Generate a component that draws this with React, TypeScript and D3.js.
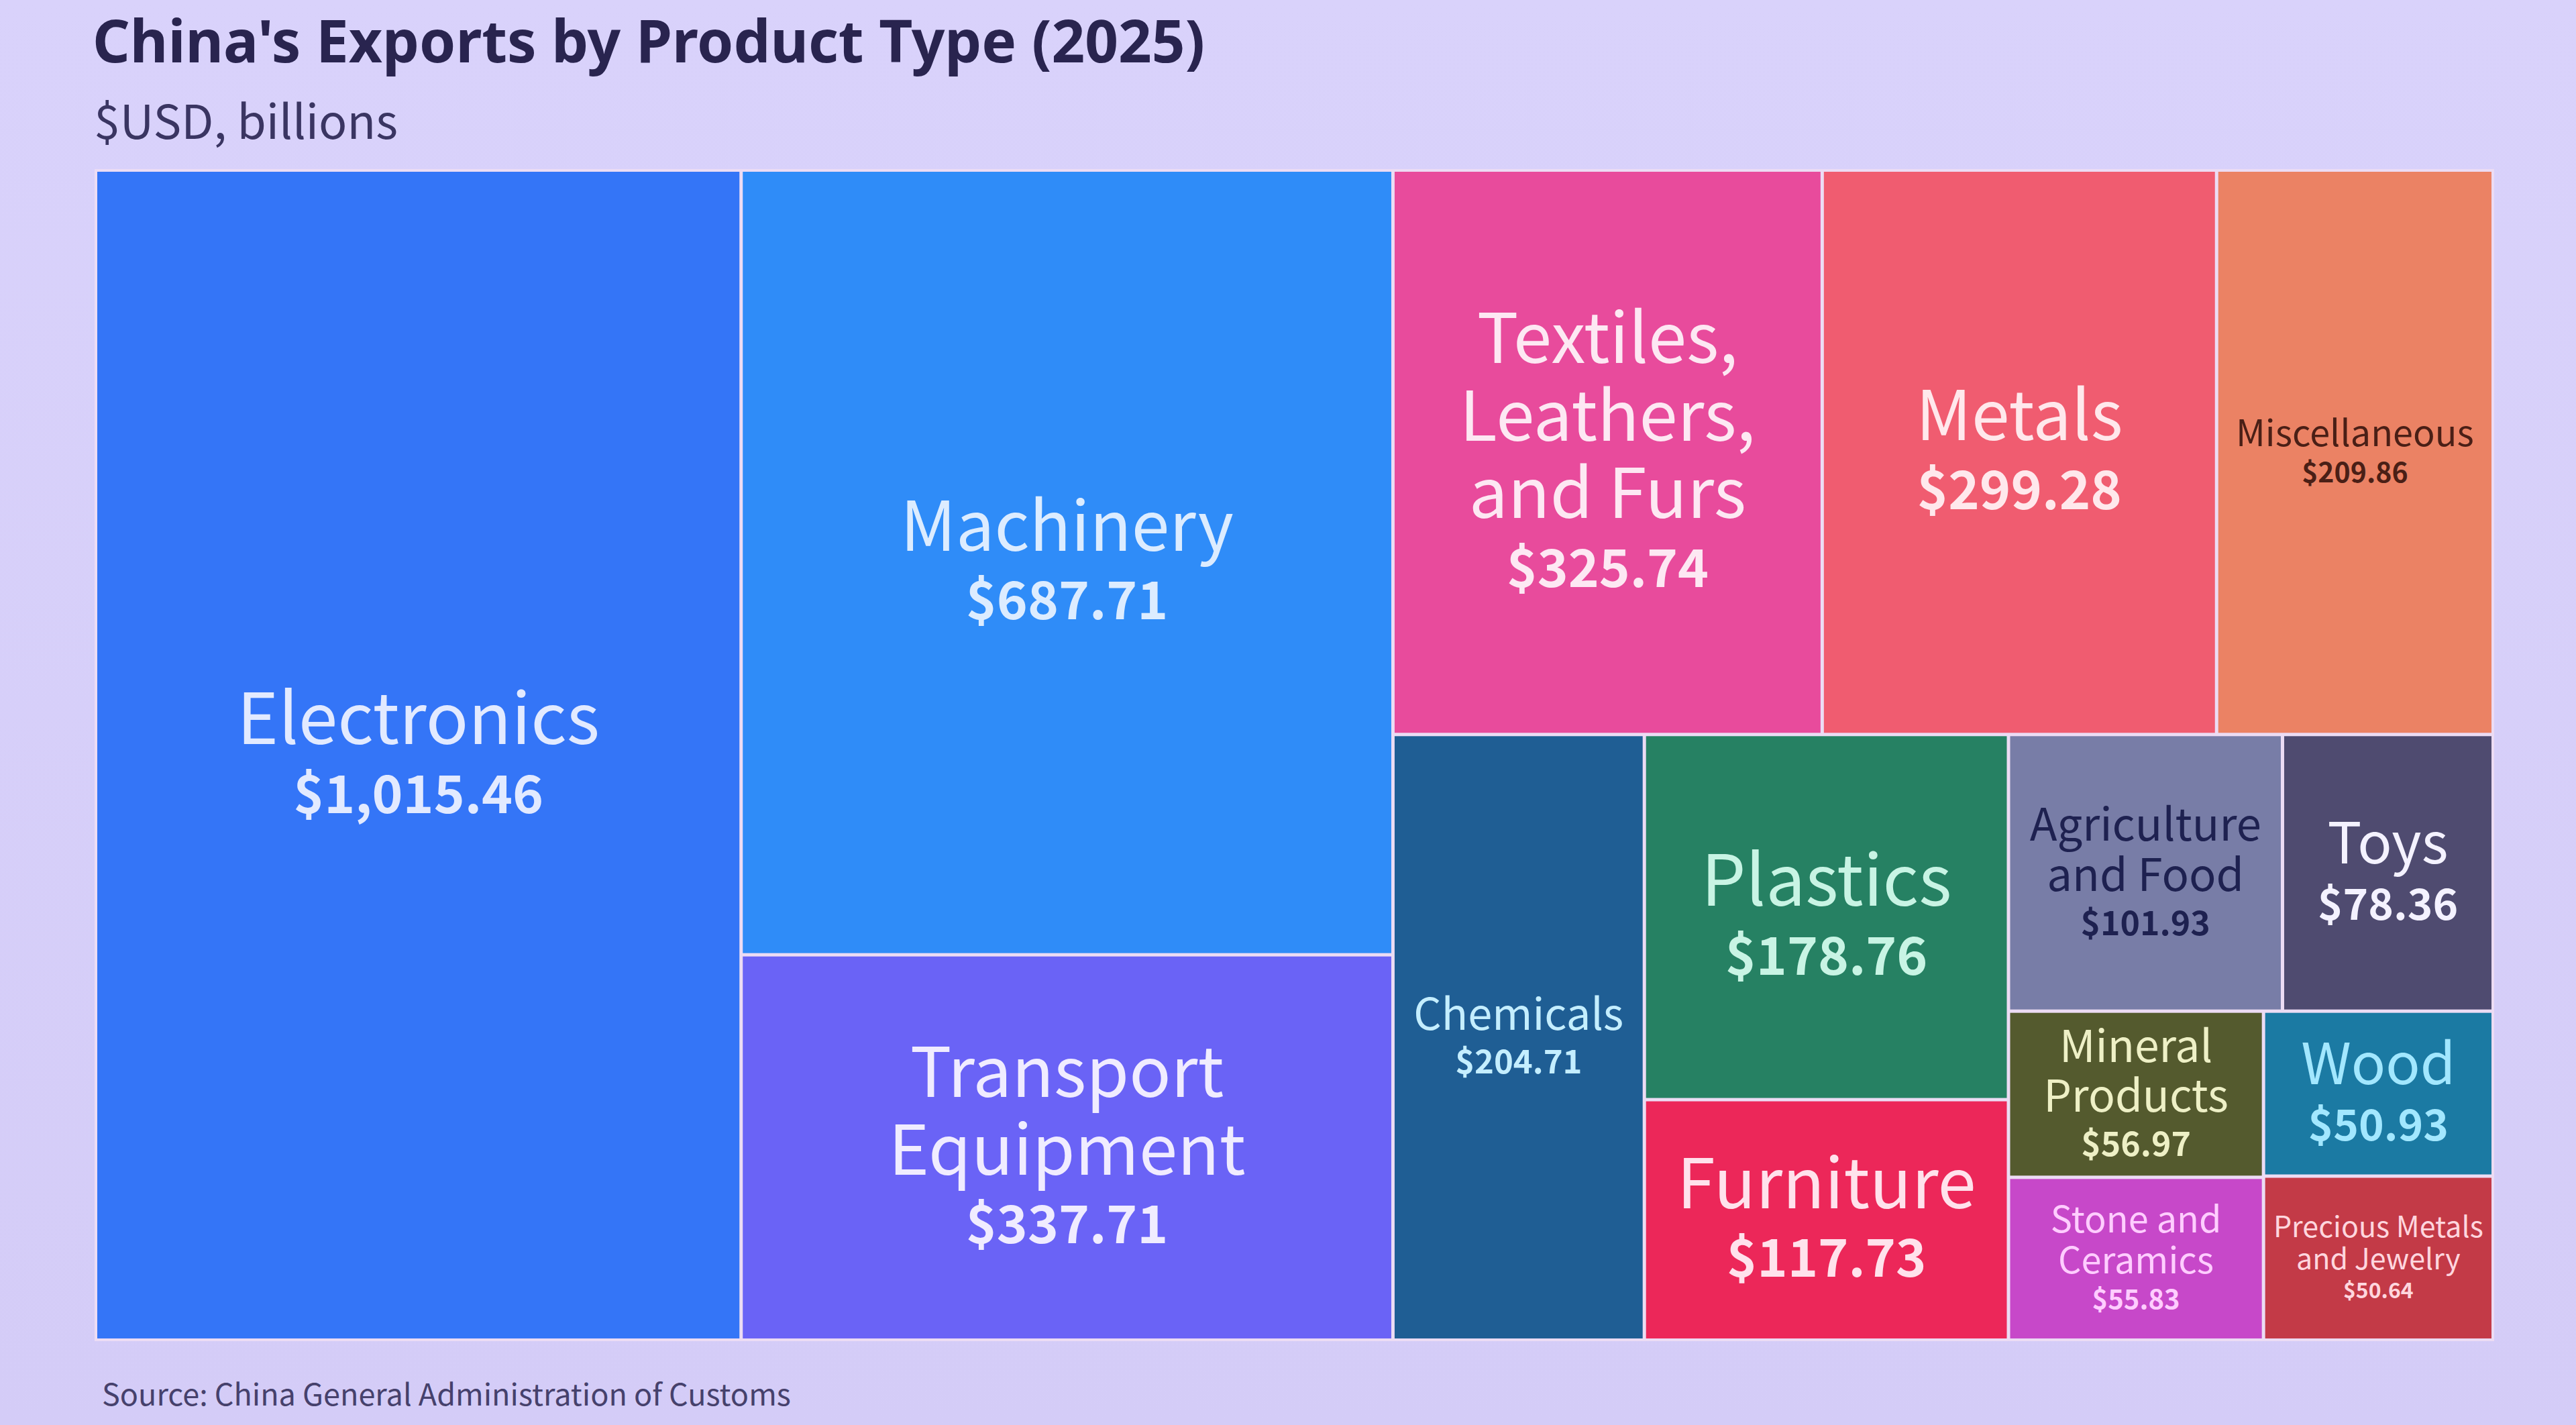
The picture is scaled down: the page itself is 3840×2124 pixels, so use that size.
import React, { useMemo } from "react";
import * as d3 from "d3";

// ---- data ----
const title = "China's Exports by Product Type (2025)";
const subtitle = "$USD, billions";
const source = "Source: China General Administration of Customs";

const categories = [
  "Electronics",
  "Machinery",
  "Transport Equipment",
  "Textiles, Leathers, and Furs",
  "Metals",
  "Miscellaneous",
  "Chemicals",
  "Plastics",
  "Furniture",
  "Agriculture and Food",
  "Toys",
  "Mineral Products",
  "Stone and Ceramics",
  "Wood",
  "Precious Metals and Jewelry",
];
const values = [
  1015.46, 687.71, 337.71, 325.74, 299.28, 209.86, 204.71, 178.76, 117.73,
  101.93, 78.36, 56.97, 55.83, 50.93, 50.64,
];

// ---- styles ----
const fills = [
  "#3475f7", "#2f8cf8", "#6a63f6", "#e84b9c", "#f05c70", "#eb8264",
  "#1f5e94", "#268163", "#ec2759", "#787da7", "#4f4b70", "#545a2e",
  "#c748c9", "#1b7aa3", "#c33a47",
];
const textColors = [
  "#e2eaff", "#dcecff", "#f0ecff", "#fde8f3", "#ffe8ec", "#4a1f16",
  "#c4eeff", "#c8f4e4", "#ffe2ec", "#1e2150", "#f4f2ff", "#eef0c6",
  "#ffcdff", "#a2e7ff", "#ffd6de",
];
const labelSizes = [105, 102, 103, 103, 102, 54, 65, 105, 103, 67, 85, 66, 54, 85, 43];
const valueSizes = [78, 78, 78, 78, 79, 41, 49, 78, 77, 50, 64, 50, 40, 64, 32];

const W = 3840;
const H = 2124;
const FONT = "'Noto Sans CJK SC', 'Noto Sans', sans-serif";
const TITLE_FONT = "'Noto Sans', sans-serif";
const box = { x0: 145, y0: 256, x1: 3714, y1: 1995 };

const fmt = d3.format(",.2f");

function wrap(text: string, size: number, maxW: number, ctx: CanvasRenderingContext2D | null) {
  const words = text.split(" ");
  if (!ctx) return [text];
  ctx.font = `${size}px "Noto Sans CJK SC"`;
  const lines: string[] = [];
  let cur = "";
  for (const w of words) {
    const t = cur ? cur + " " + w : w;
    if (cur && ctx.measureText(t).width > maxW) {
      lines.push(cur);
      cur = w;
    } else cur = t;
  }
  if (cur) lines.push(cur);
  return lines;
}

export default function App() {
  const leaves = useMemo(() => {
    const data = {
      name: "root",
      children: categories.map((c, i) => ({ name: c, value: values[i], idx: i })),
    };
    const root = d3
      .hierarchy<any>(data)
      .sum((d: any) => d.value || 0)
      .sort((a, b) => (b.value || 0) - (a.value || 0));
    d3
      .treemap<any>()
      .tile(d3.treemapBinary)
      .size([box.x1 - box.x0, box.y1 - box.y0])
      .paddingInner(5)(root);
    return root.leaves() as d3.HierarchyRectangularNode<any>[];
  }, []);

  const ctx = useMemo(() => {
    if (typeof document === "undefined") return null;
    const c = document.createElement("canvas");
    return c.getContext("2d");
  }, []);

  return (
    <svg
      width={W}
      height={H}
      viewBox={`0 0 ${W} ${H}`}
      style={{ position: "absolute", left: 0, top: 0, display: "block" }}
    >
      <defs>
        <linearGradient id="bg" x1="0" y1="0" x2="0" y2="1">
          <stop offset="0" stopColor="#d9d2fb" />
          <stop offset="1" stopColor="#d4ccf7" />
        </linearGradient>
      </defs>
      <rect x={0} y={0} width={W} height={H} fill="url(#bg)" />
      <text x={138} y={93} fontFamily={TITLE_FONT} fontWeight={700} fontSize={87} fill="#29244f">
        {title}
      </text>
      <text x={140} y={207} fontFamily={FONT} fontSize={70} fill="#3a3562">
        {subtitle}
      </text>
      <rect
        x={box.x0 - 4}
        y={box.y0 - 4}
        width={box.x1 - box.x0 + 8}
        height={box.y1 - box.y0 + 8}
        fill="#ecdcf4"
      />
      <g transform={`translate(${box.x0},${box.y0})`}>
        {leaves.map((d) => {
          const i = d.data.idx;
          const w = d.x1 - d.x0;
          const h = d.y1 - d.y0;
          const L = labelSizes[i];
          const V = valueSizes[i];
          const lines = wrap(d.data.name, L, w * 0.95, ctx);
          const lh = L * 1.12;
          const capTop = 0.66 * L;
          const lastBase = (lines.length - 1) * lh;
          const valBase = lastBase + L * 0.3 + V * 0.92;
          const blockH = capTop + valBase;
          const cx = d.x0 + w / 2;
          const top = d.y0 + (h - blockH) / 2 + capTop;
          return (
            <g key={d.data.name}>
              <rect x={d.x0} y={d.y0} width={w} height={h} fill={fills[i]} />
              <text textAnchor="middle" fontFamily={FONT} fill={textColors[i]}>
                {lines.map((ln, k) => (
                  <tspan key={k} x={cx} y={top + k * lh} fontSize={L}>
                    {ln}
                  </tspan>
                ))}
                <tspan x={cx} y={top + valBase} fontSize={V} fontWeight={700}>
                  {"$" + fmt(d.data.value)}
                </tspan>
              </text>
            </g>
          );
        })}
      </g>
      <text x={152} y={2095} fontFamily={FONT} fontSize={45} fill="#46416c">
        {source}
      </text>
    </svg>
  );
}
